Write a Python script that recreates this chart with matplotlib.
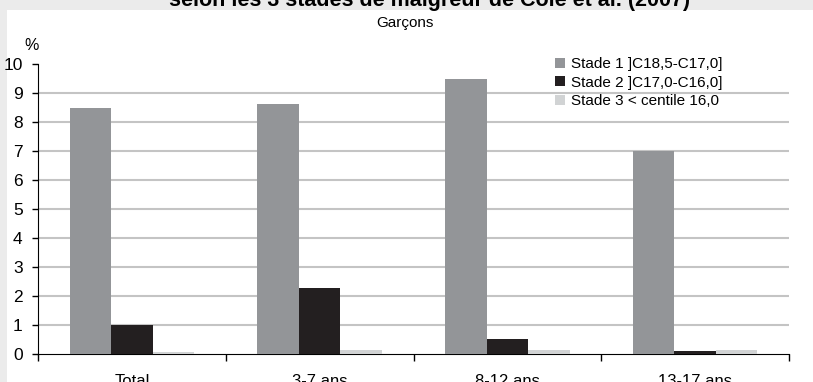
import matplotlib
matplotlib.use("Agg")
import matplotlib.pyplot as plt
import numpy as np
from matplotlib.patches import Rectangle

plt.rcParams["font.family"] = ["Liberation Sans", "DejaVu Sans"]

# Prevalence of thinness among boys, by age group (%)
categories = ["Total", "3-7 ans", "8-12 ans", "13-17 ans"]
stade1 = [8.5, 8.63, 9.47, 7.0]
stade2 = [1.0, 2.28, 0.52, 0.1]
stade3 = [0.09, 0.14, 0.14, 0.14]
series_labels = ["Stade 1 ]C18,5-C17,0]", "Stade 2 ]C17,0-C16,0]", "Stade 3 < centile 16,0"]
series_colors = ["#939598", "#231f20", "#d1d3d4"]

fig = plt.figure(figsize=(8.13, 3.82), dpi=100)
fig.patch.set_facecolor("#ebebeb")
# white chart panel behind the axes
fig.patches.append(Rectangle((7 / 813, 0), 1, 1 - 10 / 382, transform=fig.transFigure,
                             facecolor="white", edgecolor="none", zorder=-5))

ax = fig.add_axes([38 / 813, 1 - 354.3 / 382, (789 - 38) / 813, (354.3 - 64) / 382])
ax.set_facecolor("none")

x = np.arange(len(categories))
w = 0.221
for i, (vals, lab, col) in enumerate(zip([stade1, stade2, stade3], series_labels, series_colors)):
    ax.bar(x + (i - 1) * w, vals, width=w, color=col, label=lab, zorder=3)

ax.set_xlim(-0.5, len(categories) - 0.5)
ax.set_ylim(0, 10)
ax.set_yticks(range(0, 11))
for v in range(1, 10):
    ax.axhline(v, color="#c4c4c4", lw=1.5, zorder=1)

ax.spines["top"].set_visible(False)
ax.spines["right"].set_visible(False)
ax.spines["left"].set_color("black")
ax.spines["bottom"].set_color("black")

ax.set_xticks(x)
ax.set_xticklabels(categories, fontsize=12)
ax.tick_params(axis="x", which="major", length=0, pad=14)
ax.set_xticks(np.arange(len(categories) + 1) - 0.5, minor=True)
ax.tick_params(axis="x", which="minor", length=5, width=1, direction="out")
ax.tick_params(axis="y", length=4, width=1, direction="out", pad=7, labelsize=12.5)

ax.text(-0.008, 1.065, "%", transform=ax.transAxes, fontsize=11.5, ha="center", va="center")

fig.text(430 / 813, 1 - 6 / 382, "selon les 3 stades de maigreur de Cole et al. (2007)",
         fontsize=15.5, fontweight="bold", ha="center", va="baseline")
fig.text(405 / 813, 1 - 23 / 382, "Garçons", fontsize=11, ha="center", va="center")

leg = ax.legend(loc="upper left", bbox_to_anchor=(0.678, 1.05), frameon=False,
                fontsize=11, handlelength=0.65, handleheight=0.65, handletextpad=0.4,
                labelspacing=0.3, borderpad=0)

fig.savefig("out.png", dpi=100, facecolor=fig.get_facecolor())
